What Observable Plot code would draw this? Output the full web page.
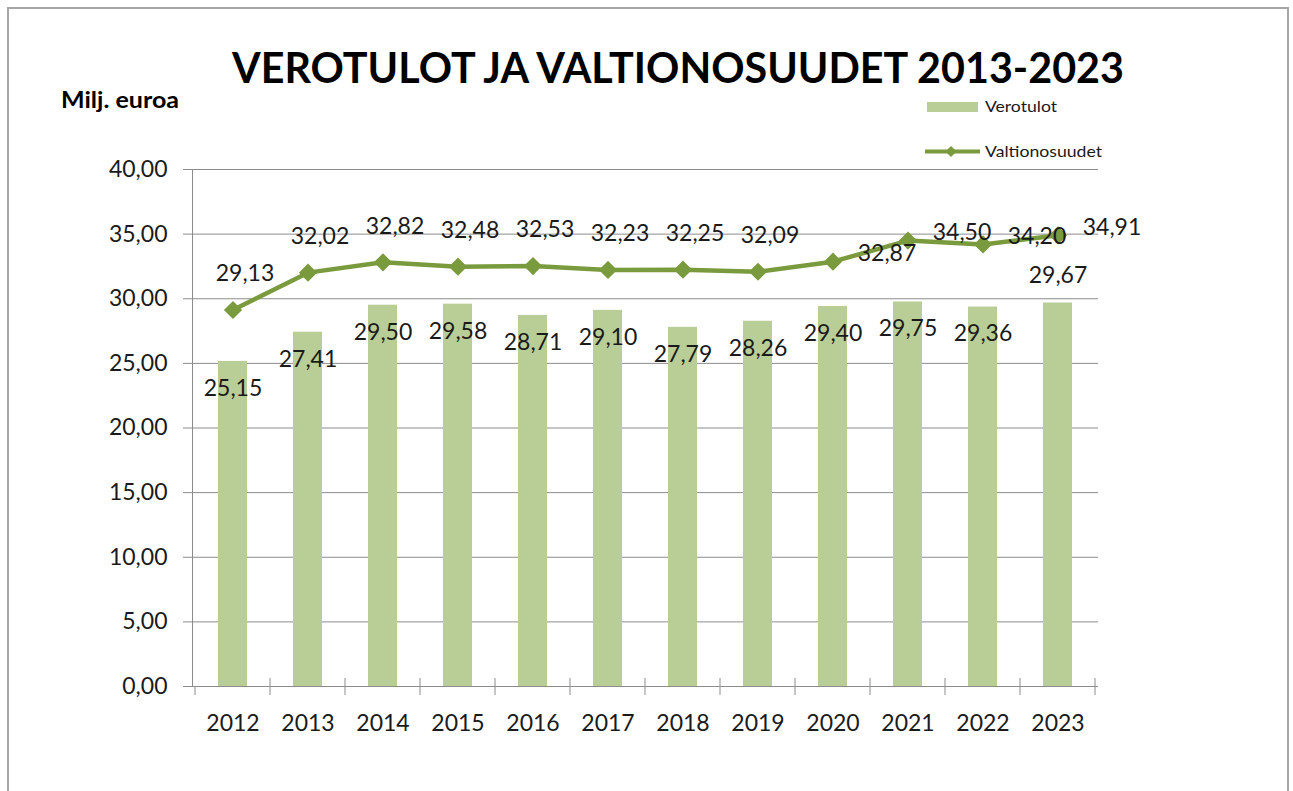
<!DOCTYPE html>
<html>
<head>
<meta charset="utf-8">
<script src="https://cdn.jsdelivr.net/npm/d3@7"></script>
<script src="https://cdn.jsdelivr.net/npm/@observablehq/plot@0.6"></script>
<style>
  html, body { margin: 0; padding: 0; background: #fff; overflow: hidden; }
  #wrap { position: relative; width: 1293px; height: 791px; }
  #border { position: absolute; left: 7px; top: 7px; width: 1282px; height: 800px; border: 2px solid #a6a6a6; box-sizing: border-box; }
  #chart { position: absolute; left: 0; top: 0; }
  #chart svg text { font-variant-numeric: tabular-nums; }
</style>
</head>
<body>
<div id="wrap">
  <div id="border"></div>
  <div id="chart"></div>
</div>
<script>
// ---- data ----
const title = "VEROTULOT JA VALTIONOSUUDET 2013-2023";
const unitLabel = "Milj. euroa";
const seriesNames = ["Verotulot", "Valtionosuudet"];
const years = ["2012","2013","2014","2015","2016","2017","2018","2019","2020","2021","2022","2023"];
const verotulot = [25.15, 27.41, 29.50, 29.58, 28.71, 29.10, 27.79, 28.26, 29.40, 29.75, 29.36, 29.67];
const valtionosuudet = [29.13, 32.02, 32.82, 32.48, 32.53, 32.23, 32.25, 32.09, 32.87, 34.50, 34.20, 34.91];
const yTicks = [0, 5, 10, 15, 20, 25, 30, 35, 40];
// label placement (semantic, as in the source chart)
const lineLabelPlace = ["above","above","above","above","above","above","above","above","right","right","right","right"];
const barLabelPlace  = ["inside","inside","inside","inside","inside","inside","inside","inside","inside","inside","inside","above"];

// ---- styles ----
const barColor = "#b9cd96";
const lineColor = "#7a9a3e";
const gridColor = "#8c8c8c";
const textColor = "#1a1a1a";
const FONT = "Lato, 'Open Sans', sans-serif";

const fmt = v => v.toFixed(2).replace(".", ",");
const data = years.map((year, i) => ({
  year, vero: verotulot[i], valt: valtionosuudet[i],
  linePlace: lineLabelPlace[i], barPlace: barLabelPlace[i]
}));

const chart = Plot.plot({
  width: 1293,
  height: 791,
  marginLeft: 192,
  marginRight: 195,
  marginTop: 169,
  marginBottom: 105,
  style: { fontFamily: FONT, fontSize: "23px", color: textColor, background: "transparent", overflow: "visible" },
  x: { type: "band", domain: years, paddingInner: 0.61, paddingOuter: 0.305, align: 0.5 },
  y: { domain: [0, 40] },
  marks: [
    Plot.ruleY(yTicks.filter(t => t > 0), { stroke: gridColor, strokeWidth: 1 }),
    Plot.barY(data, { x: "year", y: "vero", fill: barColor }),
    Plot.ruleY([0], { stroke: gridColor, strokeWidth: 1 }),
    Plot.frame({ anchor: "left", stroke: gridColor, strokeWidth: 1 }),
    Plot.axisY({ ticks: yTicks, tickFormat: fmt, tickSize: 9, tickPadding: 16, stroke: gridColor, fill: textColor, label: null }),
    Plot.axisX({ tickSize: 0, tickPadding: 28, fill: textColor, label: null }),
    Plot.line(data, { x: "year", y: "valt", stroke: lineColor, strokeWidth: 4.5 }),
    Plot.dot(data, { x: "year", y: "valt", symbol: "diamond2", r: 8.2, fill: lineColor, stroke: "none" }),
    Plot.text(data.filter(d => d.linePlace === "above"), { x: "year", y: "valt", text: d => fmt(d.valt), dx: 12, dy: -36, fill: textColor }),
    Plot.text(data.filter(d => d.linePlace === "right"), { x: "year", y: "valt", text: d => fmt(d.valt), dx: 54, dy: -8, fill: textColor }),
    Plot.text(data.filter(d => d.barPlace === "inside"), { x: "year", y: "vero", text: d => fmt(d.vero), dy: 27, fill: textColor }),
    Plot.text(data.filter(d => d.barPlace === "above"), { x: "year", y: "vero", text: d => fmt(d.vero), dy: -27, fill: textColor })
  ]
});
document.getElementById("chart").appendChild(chart);

// ---- category boundary tick marks (Excel-style, crossing the x axis) ----
const svg = d3.select(chart);
const xs = chart.scale("x");
const ys = chart.scale("y");
const y0 = ys.apply(0);
const gap = (xs.step - xs.bandwidth) / 2;
const bounds = years.map(y => xs.apply(y) - gap);
bounds.push(xs.apply(years[years.length - 1]) + xs.bandwidth + gap);
svg.append("g").selectAll("line").data(bounds).join("line")
  .attr("x1", d => d).attr("x2", d => d)
  .attr("y1", (d, i) => i === 0 ? y0 : y0 - 8).attr("y2", y0 + 9)
  .attr("stroke", gridColor).attr("stroke-width", 1);

// ---- title, unit label, legend ----
function fitText(sel, w) {
  const len = sel.node().getComputedTextLength();
  if (len > 0) sel.attr("textLength", w).attr("lengthAdjust", "spacingAndGlyphs");
}
const t = svg.append("text")
  .attr("x", 678).attr("y", 83).attr("text-anchor", "middle")
  .attr("font-family", FONT).attr("font-weight", "bold").attr("font-size", 42)
  .attr("fill", "#000").text(title);
fitText(t, 892);

const u = svg.append("text")
  .attr("x", 61).attr("y", 108).attr("text-anchor", "start")
  .attr("font-family", FONT).attr("font-weight", "bold").attr("font-size", 22)
  .attr("fill", "#000").text(unitLabel);
fitText(u, 118);

const lg = svg.append("g").attr("font-family", FONT).attr("font-size", 16).attr("fill", textColor).attr("text-anchor", "start");
lg.append("rect").attr("x", 927).attr("y", 102).attr("width", 51).attr("height", 10).attr("fill", barColor);
const l1 = lg.append("text").attr("x", 985).attr("y", 112).attr("text-anchor", "start").text(seriesNames[0]);
fitText(l1, 72);
lg.append("line").attr("x1", 925).attr("x2", 980).attr("y1", 151.5).attr("y2", 151.5)
  .attr("stroke", lineColor).attr("stroke-width", 4);
lg.append("path").attr("d", d3.symbol(d3.symbolDiamond2, 80)())
  .attr("transform", "translate(951,151.5)").attr("fill", lineColor);
const l2 = lg.append("text").attr("x", 985).attr("y", 157).attr("text-anchor", "start").text(seriesNames[1]);
fitText(l2, 117);
</script>
</body>
</html>
